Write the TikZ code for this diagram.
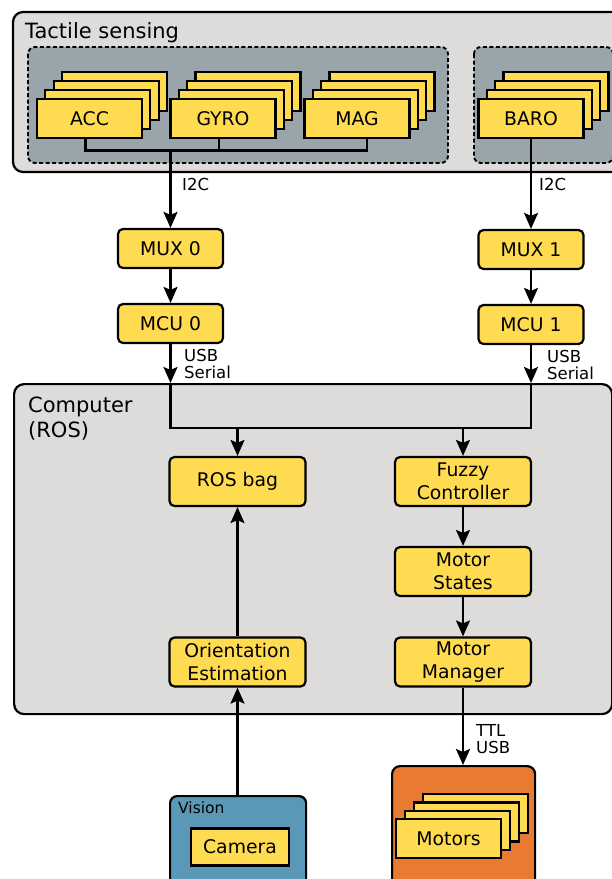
\documentclass[tikz,border=0pt]{standalone}
\usepackage{fontspec}
\setmainfont{DejaVu Sans}
\usetikzlibrary{arrows.meta}

\definecolor{boxyellow}{RGB}{255,219,82}
\definecolor{panelgray}{RGB}{221,220,219}
\definecolor{slategray}{RGB}{153,165,171}
\definecolor{visionblue}{RGB}{91,151,182}
\definecolor{motororange}{RGB}{232,122,50}

\begin{document}
\begin{tikzpicture}[x = 1pt, y = -1pt,
    block/.style = {draw, line width = 2.2pt, fill = boxyellow, rounded corners = 5pt, minimum width = 105pt, minimum height = 39pt, inner sep = 0pt, align = center, font = \fontsize{18.8}{23}\selectfont},
    wideblock/.style = {block, minimum width = 136pt, minimum height = 49pt},
    chip/.style = {block, rounded corners = 0pt},
    panel/.style = {draw, line width = 2.2pt, rounded corners = 10pt, inner sep = 0pt},
    tag/.style = {anchor = base west, inner sep = 0pt, align = left, font = \fontsize{16.5}{16.7}\selectfont},
    wire/.style = {line width = 2.2pt},
    link/.style = {wire, -{Stealth[length = 16pt, width = 14pt, inset = 3pt]}}]
    \clip (0,0) rectangle (612,879);
    \def\stepx{8.3}
    \def\stepy{9}

    %tactile sensing panel
    \draw[panel, fill = panelgray] (13,12) rectangle (640,172);
    \node[anchor = base west, inner sep = 0pt, font = \fontsize{21}{25}\selectfont] (tactile) at (25,38) {Tactile sensing};
    \draw[wire, line width = 1.9pt, dash pattern = on 4pt off 2.5pt, rounded corners = 7pt, fill = slategray] (28,47) rectangle (448,163);
    \draw[wire, line width = 1.9pt, dash pattern = on 4pt off 2.5pt, rounded corners = 7pt, fill = slategray] (474,47) rectangle (613,163);

    %computer panel
    \node[panel, fill = panelgray, anchor = north west, minimum width = 598pt, minimum height = 330pt] (computer) at (13,383) {};
    \node[anchor = base west, inner sep = 0pt, align = left, font = \fontsize{21}{25}\selectfont] (ros) at (28,437) {Computer\\(ROS)};

    %vision and motor panels
    \node[panel, fill = visionblue, rounded corners = 7pt, anchor = north west, minimum width = 136pt, minimum height = 120pt] (vision) at (169,795) {};
    \node[anchor = base west, inner sep = 0pt, font = \fontsize{15.5}{18}\selectfont] (visiontag) at (178,813) {Vision};
    \node[panel, fill = motororange, rounded corners = 8pt, anchor = north west, minimum width = 143pt, minimum height = 130pt] (motorpanel) at (391,765) {};

    %sensor stacks
    \foreach \name/\x in {ACC/89.5, GYRO/223, MAG/357, BARO/531} {
        \foreach \k in {3,2,1}
            \node[chip] at (\x + \k*\stepx, 118.5 - \k*\stepy) {};
        \node[chip] (\name) at (\x,118.5) {\name};
    }
    \foreach \k in {3,2,1}
        \node[chip] at (448.5 + \k*9, 838.5 - \k*8.3) {};
    \node[chip] (motors) at (448.5,838.5) {Motors};
    \node[chip, minimum width = 98pt, minimum height = 37pt] (camera) at (240,847) {Camera};

    %blocks
    \node[block] (MUX0) at (170.5,248.5) {MUX 0};
    \node[block] (MCU0) at (170.5,323.5) {MCU 0};
    \node[block] (MUX1) at (531,249.5) {MUX 1};
    \node[block] (MCU1) at (531,324.5) {MCU 1};
    \node[wideblock] (rosbag) at (237.5,481.5) {ROS bag};
    \node[wideblock] (fuzzy) at (463,481.5) {Fuzzy\\Controller};
    \node[wideblock] (states) at (463,571.5) {Motor\\States};
    \node[wideblock] (orient) at (237.5,662) {Orientation\\Estimation};
    \node[wideblock] (manager) at (463,662) {Motor\\Manager};

    %sensor bus
    \coordinate (sbus) at (0,150.5);
    \coordinate (dropA) at ([xshift = -4pt]ACC.south);
    \coordinate (dropG) at ([xshift = -4pt]GYRO.south);
    \coordinate (dropM) at ([xshift = 10pt]MAG.south);
    \draw[wire] (dropA) |- (dropM |- sbus) -- (dropM);
    \draw[wire] (dropG) -- (dropG |- sbus);
    \draw[link] (MUX0 |- sbus) -- (MUX0);
    \draw[link] (BARO) -- (MUX1);
    \draw[link] (MUX0) -- (MCU0);
    \draw[link] (MUX1) -- (MCU1);

    %computer bus
    \coordinate (cbus) at (0,428);
    \draw[link] (MCU0) -- (MCU0 |- computer.north);
    \draw[link] (MCU1) -- (MCU1 |- computer.north);
    \draw[wire] (MCU0 |- computer.north) |- (MCU1 |- cbus) -- (MCU1 |- computer.north);
    \draw[link] (rosbag |- cbus) -- (rosbag);
    \draw[link] (fuzzy |- cbus) -- (fuzzy);
    \draw[link] (fuzzy) -- (states);
    \draw[link] (states) -- (manager);
    \draw[link] (orient) -- (rosbag);
    \draw[link] (orient |- vision.north) -- (orient);
    \draw[link] (manager) -- (manager |- motorpanel.north);

    %labels
    \node[tag] (i2cA) at (182,190) {I2C};
    \node[tag] (i2cB) at (539,190) {I2C};
    \node[tag] (usbA) at (184,378) {USB\\Serial};
    \node[tag] (usbB) at (547,379) {USB\\Serial};
    \node[tag] (ttl) at (476,753) {TTL\\USB};
\end{tikzpicture}
\end{document}
